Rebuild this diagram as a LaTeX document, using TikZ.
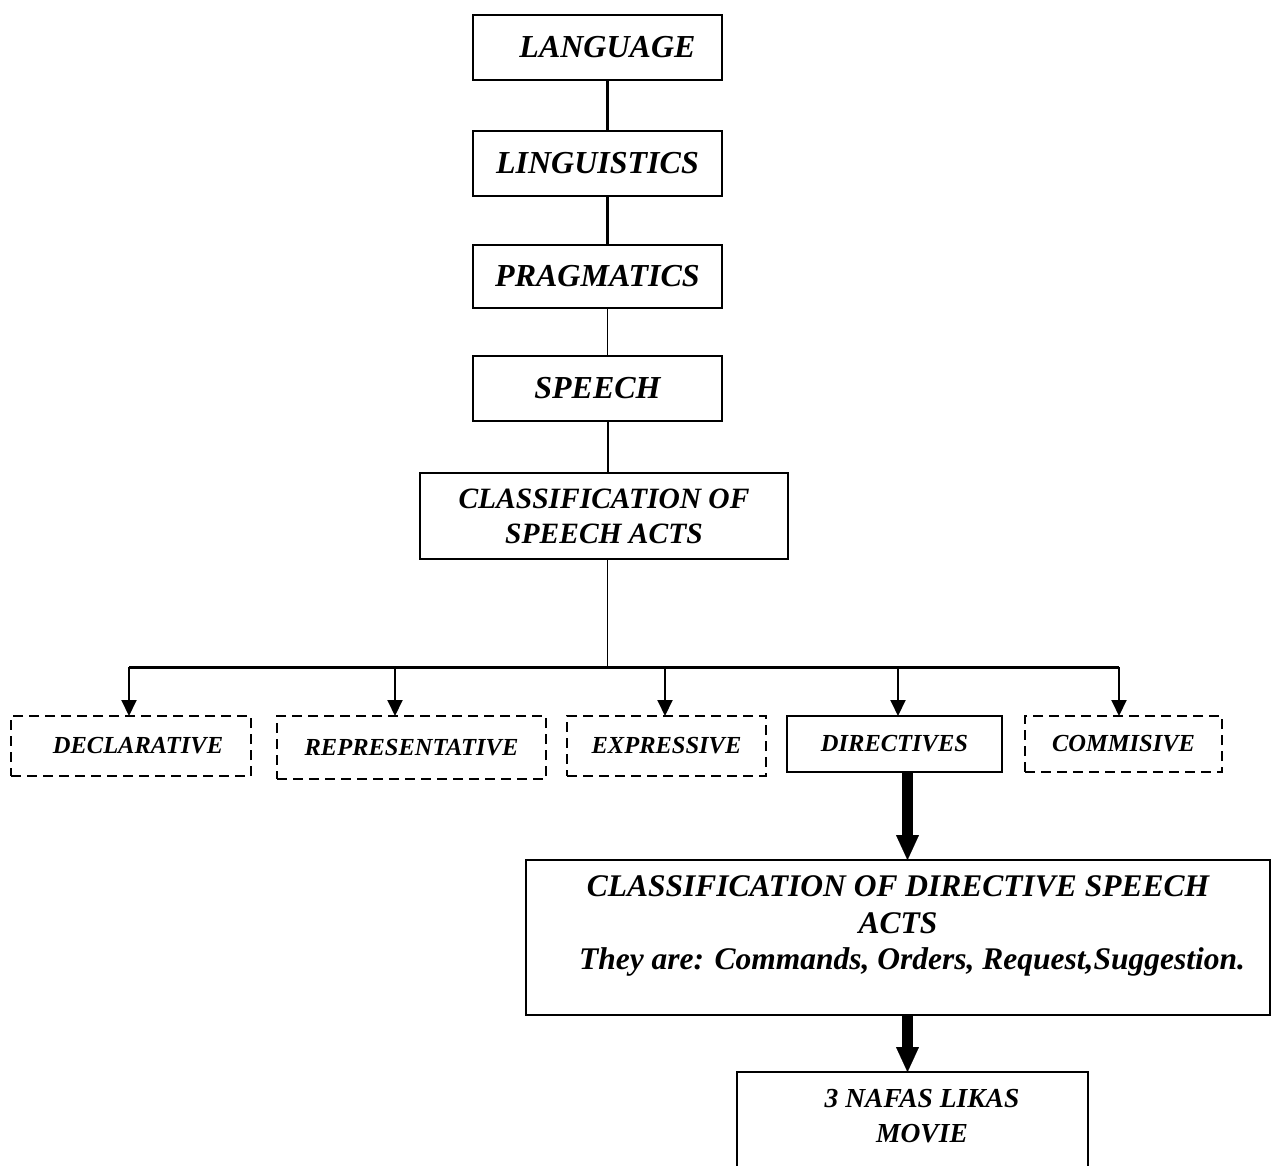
\documentclass[tikz,border=0pt]{standalone}
\usepackage{fontspec}
\setmainfont{Liberation Serif}
\usetikzlibrary{arrows.meta,calc}
\begin{document}
\begin{tikzpicture}[x=1pt,y=-1pt,
  box/.style={draw=black,line width=2.2pt,inner sep=0pt,outer sep=0pt},
  dbox/.style={box,line width=2.4pt,dash pattern=on 10pt off 6pt},
  topfont/.style={font=\fontsize{32}{36}\selectfont\bfseries\itshape},
  midfont/.style={font=\fontsize{24.5}{28}\selectfont\bfseries\itshape},
  arr/.style={line width=2pt,-{Triangle[width=15pt,length=16pt]}},
  fat/.style={line width=11pt,-{Triangle[width=23pt,length=25pt,line width=0.1pt]}},
  conn/.style={line width=#1}
]
\useasboundingbox (0,0) rectangle (1272,1166);
\clip (0,0) rectangle (1272,1166);
\fill[white] (0,0) rectangle (1272,1166);

% top chain
\node[box,topfont,minimum width=249pt,minimum height=65pt] (lang) at (597.5,47.5) {\hspace*{20pt}LANGUAGE};
\node[box,topfont,minimum width=249pt,minimum height=65pt] (ling) at (597.5,163.5) {LINGUISTICS};
\node[box,topfont,minimum width=249pt,minimum height=63pt] (prag) at (597.5,276.5) {PRAGMATICS};
\node[box,topfont,minimum width=249pt,minimum height=65pt] (speech) at (597.5,388.5) {SPEECH};
\node[box,minimum width=368pt,minimum height=86pt,align=center,
      font=\fontsize{29.5}{35}\selectfont\bfseries\itshape] (classif) at (604,516) {CLASSIFICATION OF\\SPEECH ACTS};

\coordinate (spine) at (607.5,0);
\draw[conn=2.6pt] (lang.south -| spine) -- (ling.north -| spine);
\draw[conn=2.6pt] (ling.south -| spine) -- (prag.north -| spine);
\draw[conn=1.3pt] (prag.south -| spine) -- (speech.north -| spine);
\draw[conn=2pt] (speech.south -| spine) -- (classif.north -| spine);

% bus
\coordinate (b1) at (129,667);
\coordinate (b2) at (395,667);
\coordinate (b3) at (665,667);
\coordinate (b4) at (898,667);
\coordinate (b5) at (1119,667);
\draw[conn=1.3pt] (classif.south -| spine) -- (spine |- b1);
\draw[conn=3pt] (b1) -- (b5);

% categories
\node[dbox,midfont,minimum width=240pt,minimum height=60pt] (decl) at (131,746) {\hspace*{14pt}DECLARATIVE};
\node[dbox,midfont,minimum width=269pt,minimum height=63pt] (repr) at (411.5,747.5) {REPRESENTATIVE};
\node[dbox,midfont,minimum width=199pt,minimum height=60pt] (expr) at (666.5,746) {EXPRESSIVE};
\node[box,midfont,minimum width=215pt,minimum height=56pt] (dirs) at (894.5,744) {DIRECTIVES};
\node[dbox,midfont,minimum width=197pt,minimum height=56pt] (comm) at (1123.5,744) {COMMISIVE};

\draw[arr] (b1) -- (b1 |- decl.north);
\draw[arr] (b2) -- (b2 |- repr.north);
\draw[arr] (b3) -- (b3 |- expr.north);
\draw[arr] (b4) -- (b4 |- dirs.north);
\draw[arr] (b5) -- (b5 |- comm.north);

% directive classification
\node[box,minimum width=744pt,minimum height=155pt] (cdir) at (898,937.5) {};
\node[align=center,inner sep=0pt,font=\fontsize{31.5}{36.5}\selectfont\bfseries\itshape] (cdirtext) at (898,926)
  {CLASSIFICATION OF DIRECTIVE SPEECH\\ACTS\\\hspace*{28pt}They are: Commands, Orders, Request,Suggestion.};

% movie box (runs off the bottom)
\node[box,minimum width=351pt,minimum height=178pt] (movie) at (912.5,1161) {};
\node[align=center,inner sep=0pt,font=\fontsize{27.5}{35}\selectfont\bfseries\itshape] (movietext) at (922,1116)
  {3 NAFAS LIKAS\\MOVIE};

\coordinate (f1) at (907.5,0);
\draw[fat] (dirs.south -| f1) -- (cdir.north -| f1);
\draw[fat] (cdir.south -| f1) -- (movie.north -| f1);
\end{tikzpicture}
\end{document}
